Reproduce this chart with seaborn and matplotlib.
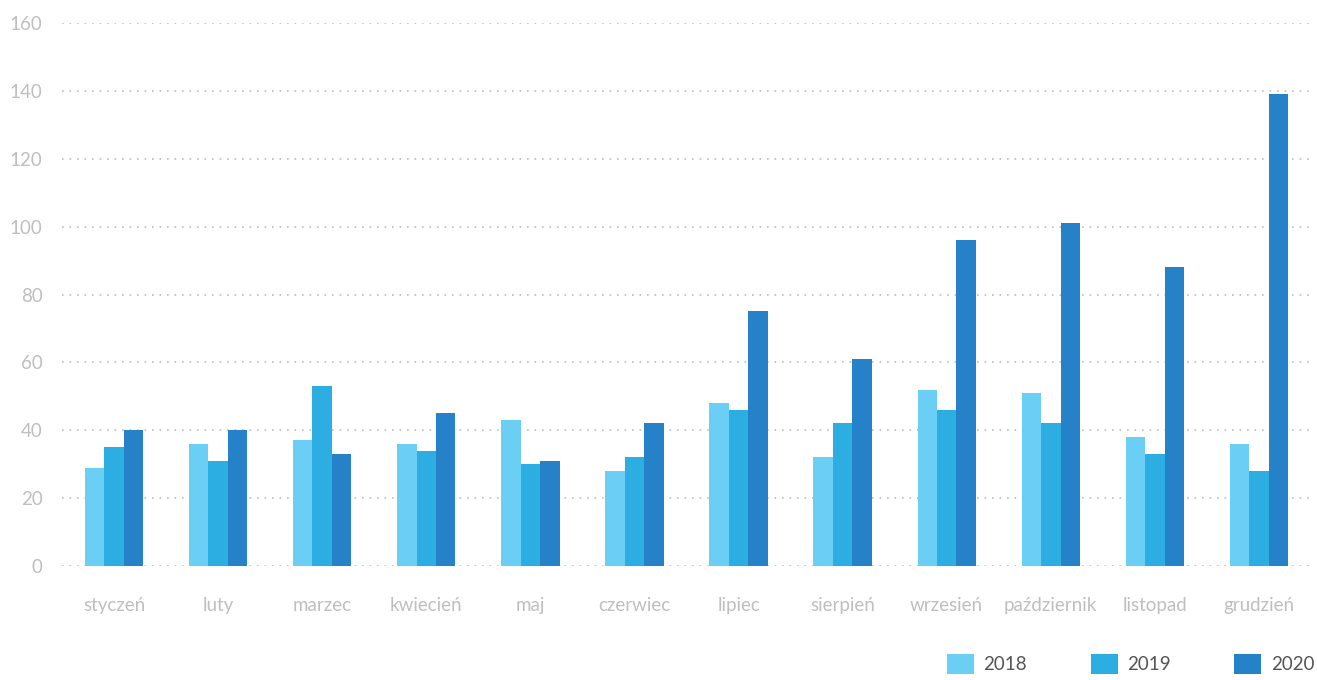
import matplotlib
matplotlib.use("Agg")
import matplotlib.pyplot as plt
import seaborn as sns
import pandas as pd
from matplotlib.patches import Patch

months = ["styczeń", "luty", "marzec", "kwiecień", "maj", "czerwiec",
          "lipiec", "sierpień", "wrzesień", "październik", "listopad", "grudzień"]
years = ["2018", "2019", "2020"]
v2018 = [29, 36, 37, 36, 43, 28, 48, 32, 52, 51, 38, 36]
v2019 = [35, 31, 53, 34, 30, 32, 46, 42, 46, 42, 33, 28]
v2020 = [40, 40, 33, 45, 31, 42, 75, 61, 96, 101, 88, 139]
colors = ["#6ACEF5", "#2DAEE2", "#2682C8"]
yticks = [0, 20, 40, 60, 80, 100, 120, 140, 160]

sns.set_theme(style="white")
plt.rcParams['font.family'] = ['Lato', 'DejaVu Sans']

rows = []
for y, vals in zip(years, [v2018, v2019, v2020]):
    for m, v in zip(months, vals):
        rows.append({"month": m, "year": y, "value": v})
df = pd.DataFrame(rows)

fig = plt.figure(figsize=(13.17, 6.80), dpi=100)
ax = fig.add_axes([62/1317, 114/680, 1249/1317, 543/680])

sns.barplot(data=df, x="month", y="value", hue="year", order=months,
            hue_order=years, palette=colors, width=0.56, saturation=1,
            linewidth=0, ax=ax, legend=False)

ax.set_ylim(0, 160)
ax.set_xlim(-0.5, 11.5)
ax.set_yticks(yticks)
ax.set_yticklabels([str(t) for t in yticks])
ax.set_xlabel("")
ax.set_ylabel("")
for s in ax.spines.values():
    s.set_visible(False)
ax.yaxis.grid(True, color="#BDBDBD", linestyle=(0, (1, 3.5)), linewidth=1.2)
ax.set_axisbelow(True)
ax.tick_params(axis="y", length=0, pad=14, labelsize=13.5, labelcolor="#BFBFBF")
ax.tick_params(axis="x", length=0, pad=22, labelsize=13.5, labelcolor="#BFBFBF")

handles = [Patch(facecolor=c, edgecolor="none", label=y) for c, y in zip(colors, years)]
leg = fig.legend(handles=handles, loc="upper left",
                 bbox_to_anchor=(947/1317, 1 - 654/680), ncol=3, frameon=False,
                 fontsize=13.5, handlelength=1.45, handleheight=1.3,
                 handletextpad=0.5, columnspacing=3.38, borderpad=0, borderaxespad=0)
for t in leg.get_texts():
    t.set_color("#555555")

fig.savefig("out.png", dpi=100)
